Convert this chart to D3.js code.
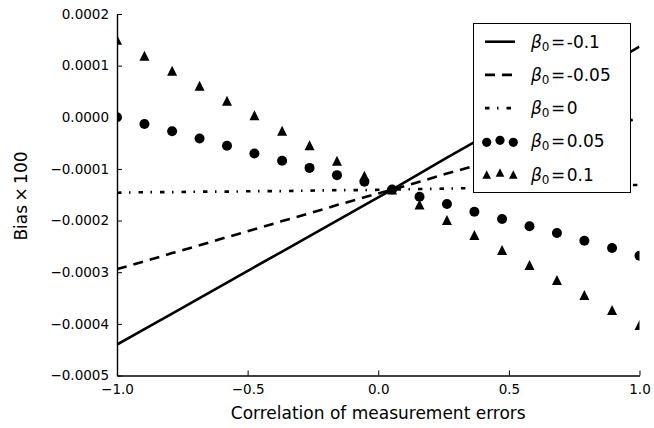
<!DOCTYPE html>
<html>
<head>
<meta charset="utf-8">
<script src="https://cdn.jsdelivr.net/npm/d3@7"></script>
<style>
    body { margin: 0; background: #fff; }
    svg { display: block; font-family: 'DejaVu Sans', sans-serif; }
</style>
</head>
<body>
<svg id="chart" width="654" height="428"></svg>
<script>
// correlation of measurement errors (x)
const corr = [-1.0, -0.895, -0.789, -0.684, -0.579, -0.474, -0.368, -0.263, -0.158, -0.053,
    0.053, 0.158, 0.263, 0.368, 0.474, 0.579, 0.684, 0.789, 0.895, 1.0]

// bias x100 per beta0
const biasM010 = [-0.000440, -0.000410, -0.000380, -0.000350, -0.000320, -0.000290, -0.000260, -0.000230, -0.000200, -0.000170,
    -0.000140, -0.000109, -0.000078, -0.000048, -0.000017, 0.000014, 0.000045, 0.000076, 0.000106, 0.000137]
const biasM005 = [-0.000294, -0.000279, -0.000263, -0.000248, -0.000232, -0.000217, -0.000201, -0.000186, -0.000170, -0.000155,
    -0.000140, -0.000125, -0.000109, -0.000094, -0.000078, -0.000062, -0.000047, -0.000031, -0.000016, -0.000001]
const bias000 = [-0.000146, -0.000145, -0.000145, -0.000144, -0.000144, -0.000143, -0.000143, -0.000142, -0.000141, -0.000141,
    -0.000140, -0.000139, -0.000138, -0.000137, -0.000136, -0.000135, -0.000134, -0.000133, -0.000132, -0.000131]
const biasP005 = [0.000000, -0.000013, -0.000027, -0.000041, -0.000055, -0.000070, -0.000084, -0.000098, -0.000112, -0.000125,
    -0.000140, -0.000154, -0.000168, -0.000183, -0.000197, -0.000211, -0.000224, -0.000239, -0.000253, -0.000268]
const biasP010 = [0.000150, 0.000119, 0.000090, 0.000061, 0.000032, 0.000004, -0.000026, -0.000054, -0.000084, -0.000113,
    -0.000140, -0.000169, -0.000199, -0.000228, -0.000257, -0.000286, -0.000315, -0.000344, -0.000373, -0.000402]

const xTicks = [-1.0, -0.5, 0.0, 0.5, 1.0]
const yTicks = [0.0002, 0.0001, 0.0, -0.0001, -0.0002, -0.0003, -0.0004, -0.0005]
const legendValues = ['-0.1', '-0.05', '0', '0.05', '0.1']

const svg = d3.select('#chart')
const plotL = 117, plotR = 639.5, plotT = 14, plotB = 375.5

const x = d3.scaleLinear().domain([-1, 1]).range([plotL, plotR])
const y = d3.scaleLinear().domain([-0.0005, 0.0002]).range([plotB, plotT])

svg.append('defs').append('clipPath').attr('id', 'plotClip')
    .append('rect')
    .attr('x', plotL).attr('y', plotT)
    .attr('width', plotR - plotL).attr('height', plotB - plotT)

const plot = svg.append('g').attr('clip-path', 'url(#plotClip)')

const line = d3.line().x((d, i) => x(corr[i])).y(d => y(d))

const lineSeries = [
    { values: biasM010, dash: null },
    { values: biasM005, dash: '10,7' },
    { values: bias000, dash: '4.5,7.5,1.5,8' },
]

lineSeries.forEach(s => {
    plot.append('path')
        .datum(s.values)
        .attr('d', line)
        .attr('fill', 'none')
        .attr('stroke', '#000')
        .attr('stroke-width', 2.6)
        .attr('stroke-dasharray', s.dash)
})

// triangle path centred on the point (matplotlib style '^')
const tri = r => `M0,${-r}L${r},${r}L${-r},${r}Z`

plot.selectAll('circle.p005')
    .data(biasP005)
    .join('circle')
    .attr('class', 'p005')
    .attr('cx', (d, i) => x(corr[i]))
    .attr('cy', d => y(d))
    .attr('r', 5)
    .attr('fill', '#000')

plot.selectAll('path.p010')
    .data(biasP010)
    .join('path')
    .attr('class', 'p010')
    .attr('d', tri(5))
    .attr('transform', (d, i) => `translate(${x(corr[i])},${y(d)})`)
    .attr('fill', '#000')

// axes: only left and bottom spines, ticks inside
const xAxis = svg.append('g')
    .attr('transform', `translate(0,${plotB})`)
    .call(d3.axisBottom(x).tickValues(xTicks).tickSizeInner(-5).tickSizeOuter(0).tickPadding(9)
        .tickFormat(d => d3.format('.1f')(d).replace('-', '\u2212')))

const yAxis = svg.append('g')
    .attr('transform', `translate(${plotL},0)`)
    .call(d3.axisLeft(y).tickValues(yTicks).tickSizeInner(-5).tickSizeOuter(0).tickPadding(8)
        .tickFormat(d => d3.format('.4f')(d).replace('-', '\u2212')))

;[xAxis, yAxis].forEach(g => {
    g.select('.domain').attr('stroke', '#000').attr('stroke-width', 1.4)
    g.selectAll('.tick line').attr('stroke', '#000').attr('stroke-width', 1)
    g.selectAll('.tick text')
        .attr('fill', '#000')
        .style('font-family', 'DejaVu Sans')
        .style('font-size', '13.5px')
})

svg.append('text')
    .attr('x', (plotL + plotR) / 2)
    .attr('y', 419)
    .attr('text-anchor', 'middle')
    .style('font-size', '17px')
    .text('Correlation of measurement errors')

svg.append('text')
    .attr('transform', 'translate(27,196) rotate(-90)')
    .attr('text-anchor', 'middle')
    .style('font-size', '17px')
    .text('Bias\u2009\u00d7\u2009100')

// legend
const legend = svg.append('g')
legend.append('rect')
    .attr('x', 473.5).attr('y', 23.5)
    .attr('width', 157).attr('height', 169)
    .attr('fill', '#fff')
    .attr('stroke', '#000')
    .attr('stroke-width', 1)

const rowY = d3.scaleLinear().domain([0, 4]).range([41.7, 174.5])

legendValues.forEach((v, i) => {
    const cy = rowY(i)
    const g = legend.append('g')
    if (i < 3) {
        g.append('line')
            .attr('x1', 485).attr('x2', 515)
            .attr('y1', cy).attr('y2', cy)
            .attr('stroke', '#000')
            .attr('stroke-width', 2.6)
            .attr('stroke-dasharray', lineSeries[i].dash)
    } else {
        const offs = [0, -2, 0]
        ;[486.7, 500, 513.3].forEach((mx, k) => {
            if (i === 3) {
                g.append('circle').attr('cx', mx).attr('cy', cy + offs[k] + 1).attr('r', 4.6).attr('fill', '#000')
            } else {
                g.append('path').attr('d', tri(4.3))
                    .attr('transform', `translate(${mx},${cy + offs[k]})`)
                    .attr('fill', '#000')
            }
        })
    }
    const t = g.append('text')
        .attr('x', 531)
        .attr('y', cy + 6)
        .style('font-size', '17px')
    t.append('tspan').style('font-style', 'italic').text('\u03b2')
    t.append('tspan').attr('dy', 3).style('font-size', '12px').text('0')
    t.append('tspan').attr('dy', -3).attr('dx', 1.5).text('=')
    t.append('tspan').attr('dx', 1.5).text(v)
})
</script>
</body>
</html>
